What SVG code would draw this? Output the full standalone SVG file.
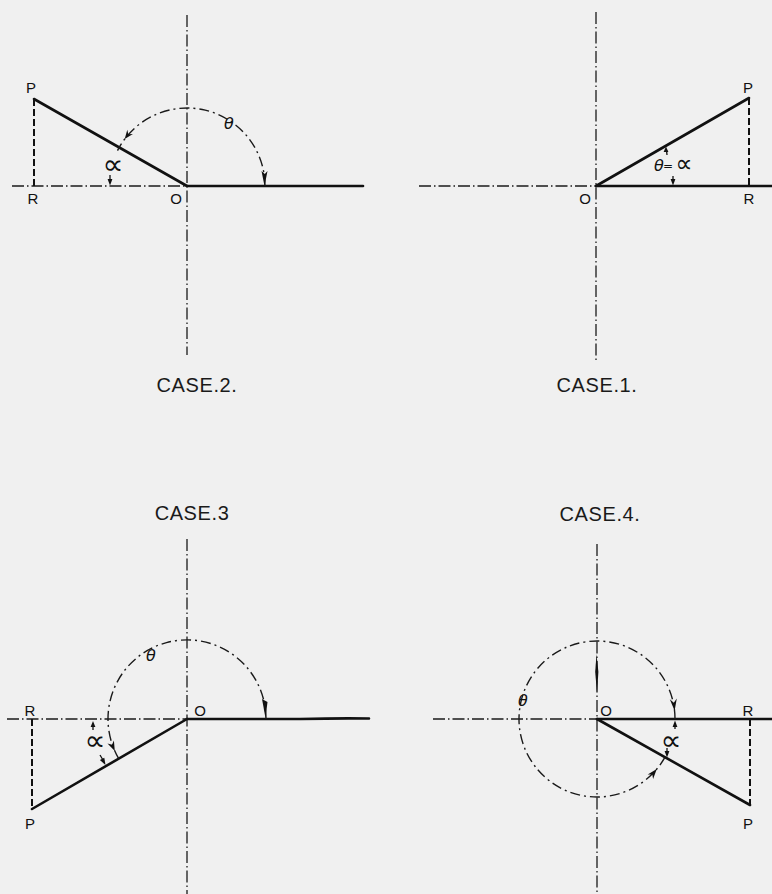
<svg xmlns="http://www.w3.org/2000/svg" width="772" height="894" viewBox="0 0 772 894">
<style>
.bg{fill:#f0f0f0}
.axis{stroke:#1a1a1a;stroke-width:1.3;fill:none;stroke-dasharray:12 3 1.5 3}
.solid{stroke:#111;stroke-width:2.6;fill:none;stroke-linecap:round}
.dash{stroke:#111;stroke-width:2;fill:none;stroke-dasharray:7 3}
.arc{stroke:#1a1a1a;stroke-width:1.4;fill:none;stroke-dasharray:10 4 2 4}
.tick{stroke:#111;stroke-width:1.3;fill:none}
.head{fill:#111;stroke:none}
.lbl{font-family:"Liberation Sans",Arial,sans-serif;font-size:15px;fill:#111;text-anchor:middle}
.case{font-family:"Liberation Sans",Arial,sans-serif;font-size:20px;fill:#1a1a1a;text-anchor:middle;letter-spacing:0.6px}
.greek{font-family:"DejaVu Sans",sans-serif;fill:#111;text-anchor:middle}
.theta{font-family:"DejaVu Sans",sans-serif;font-style:italic;font-size:16px;fill:#111;text-anchor:middle}
</style>
<rect class="bg" x="0" y="0" width="772" height="894"/>

<g id="case2">
  <line class="axis" x1="187" y1="15" x2="187" y2="355"/>
  <line class="axis" x1="12" y1="186" x2="187" y2="186"/>
  <line class="solid" x1="187" y1="186" x2="363" y2="186"/>
  <line class="solid" x1="34" y1="99" x2="187" y2="186"/>
  <line class="dash" x1="34" y1="99" x2="34" y2="186"/>
  <path class="arc" d="M265,186 A78,78 0 0 0 117.5,150.6"/>
  <polygon class="head" points="264.5,186 267.5,171 264.8,174 261.5,171"/>
  <polygon class="head" points="124.7,139.1 132.9,134.0 128.3,134.3 127.3,129.8"/>
  <line class="tick" x1="110" y1="175" x2="110" y2="181"/>
  <polygon class="head" points="110,185.5 107.6,179 112.4,179"/>
  <text class="lbl" x="31" y="93">P</text>
  <text class="lbl" x="33" y="204">R</text>
  <text class="lbl" x="176" y="204">O</text>
  <text class="theta" x="229" y="129">θ</text>
  <text class="greek" x="113" y="174" font-size="28" textLength="21" lengthAdjust="spacingAndGlyphs">∝</text>
  <text class="case" x="197" y="392">CASE.2.</text>
</g>

<g id="case1">
  <line class="axis" x1="596" y1="12" x2="596" y2="362"/>
  <line class="axis" x1="419" y1="186" x2="596" y2="186"/>
  <line class="solid" x1="596" y1="186" x2="772" y2="186"/>
  <line class="solid" x1="596" y1="186" x2="749" y2="98"/>
  <line class="dash" x1="749" y1="98" x2="749" y2="186"/>
  <line class="tick" x1="666.5" y1="150" x2="667" y2="155"/>
  <polygon class="head" points="666,146.5 663.6,152 668.4,152"/>
  <line class="tick" x1="673" y1="176" x2="673" y2="181"/>
  <polygon class="head" points="673,185.5 670.6,179 675.4,179"/>
  <text class="lbl" x="748" y="93">P</text>
  <text class="lbl" x="749" y="204">R</text>
  <text class="lbl" x="585" y="204">O</text>
  <text class="theta" x="659" y="171">θ</text>
  <text class="greek" x="668" y="170" font-size="12">=</text>
  <text class="greek" x="684" y="172" font-size="25" textLength="17" lengthAdjust="spacingAndGlyphs">∝</text>
  <text class="case" x="597" y="392">CASE.1.</text>
</g>

<g id="case3">
  <line class="axis" x1="187" y1="539" x2="187" y2="894"/>
  <line class="axis" x1="7" y1="719" x2="187" y2="719"/>
  <path class="solid" d="M187,719 L300,719 Q340,718 369,718.5"/>
  <line class="solid" x1="187" y1="719" x2="32" y2="809"/>
  <line class="dash" x1="32" y1="719" x2="32" y2="809"/>
  <path class="arc" d="M266,719 A79,79 0 1 0 118.7,758.6"/>
  <polygon class="head" points="265.5,718 267.5,702 262,699"/>
  <polygon class="head" points="114.8,751.1 107.5,743.4 112.0,744.7 113.9,740.6"/>
  <line class="tick" x1="93" y1="724" x2="93" y2="730"/>
  <polygon class="head" points="93,721 90.6,727 95.4,727"/>
  <line class="tick" x1="100" y1="755" x2="103" y2="760"/>
  <polygon class="head" points="105.5,765 99.9,760.1 104.3,757.7"/>
  <text class="lbl" x="30" y="716">R</text>
  <text class="lbl" x="30" y="829">P</text>
  <text class="lbl" x="200" y="716">O</text>
  <text class="theta" x="151" y="661">θ</text>
  <text class="greek" x="95" y="750" font-size="28" textLength="21" lengthAdjust="spacingAndGlyphs">∝</text>
  <text class="case" x="192" y="520">CASE.3</text>
</g>

<g id="case4">
  <line class="axis" x1="597" y1="544" x2="597" y2="894"/>
  <line class="axis" x1="433" y1="719" x2="597" y2="719"/>
  <line class="solid" x1="597" y1="719" x2="772" y2="719"/>
  <line class="solid" x1="597" y1="719" x2="750" y2="805"/>
  <line class="dash" x1="750" y1="719" x2="750" y2="805"/>
  <path class="arc" d="M675,719 A78,78 0 1 0 665,757.2"/>
  <polygon class="head" points="596.5,654 598.4,672 597,693 595.2,672"/>
  <polygon class="head" points="674.6,710.8 669.8,699.3 673.8,702.8 676.8,698.5"/>
  <line class="tick" x1="675" y1="724" x2="675" y2="729"/>
  <polygon class="head" points="675,720.5 672.6,727 677.4,727"/>
  <polygon class="head" points="656.8,769.1 653.1,779.1 652.3,774.5 647.7,774.5"/>
  <line class="tick" x1="667" y1="748" x2="667" y2="753"/>
  <polygon class="head" points="667,757.5 664.6,751 669.4,751"/>
  <text class="lbl" x="748" y="716">R</text>
  <text class="lbl" x="748" y="829">P</text>
  <text class="lbl" x="606" y="716">O</text>
  <text class="theta" x="523" y="706">θ</text>
  <text class="greek" x="671" y="750" font-size="28" textLength="21" lengthAdjust="spacingAndGlyphs">∝</text>
  <text class="case" x="600" y="521">CASE.4.</text>
</g>
</svg>
